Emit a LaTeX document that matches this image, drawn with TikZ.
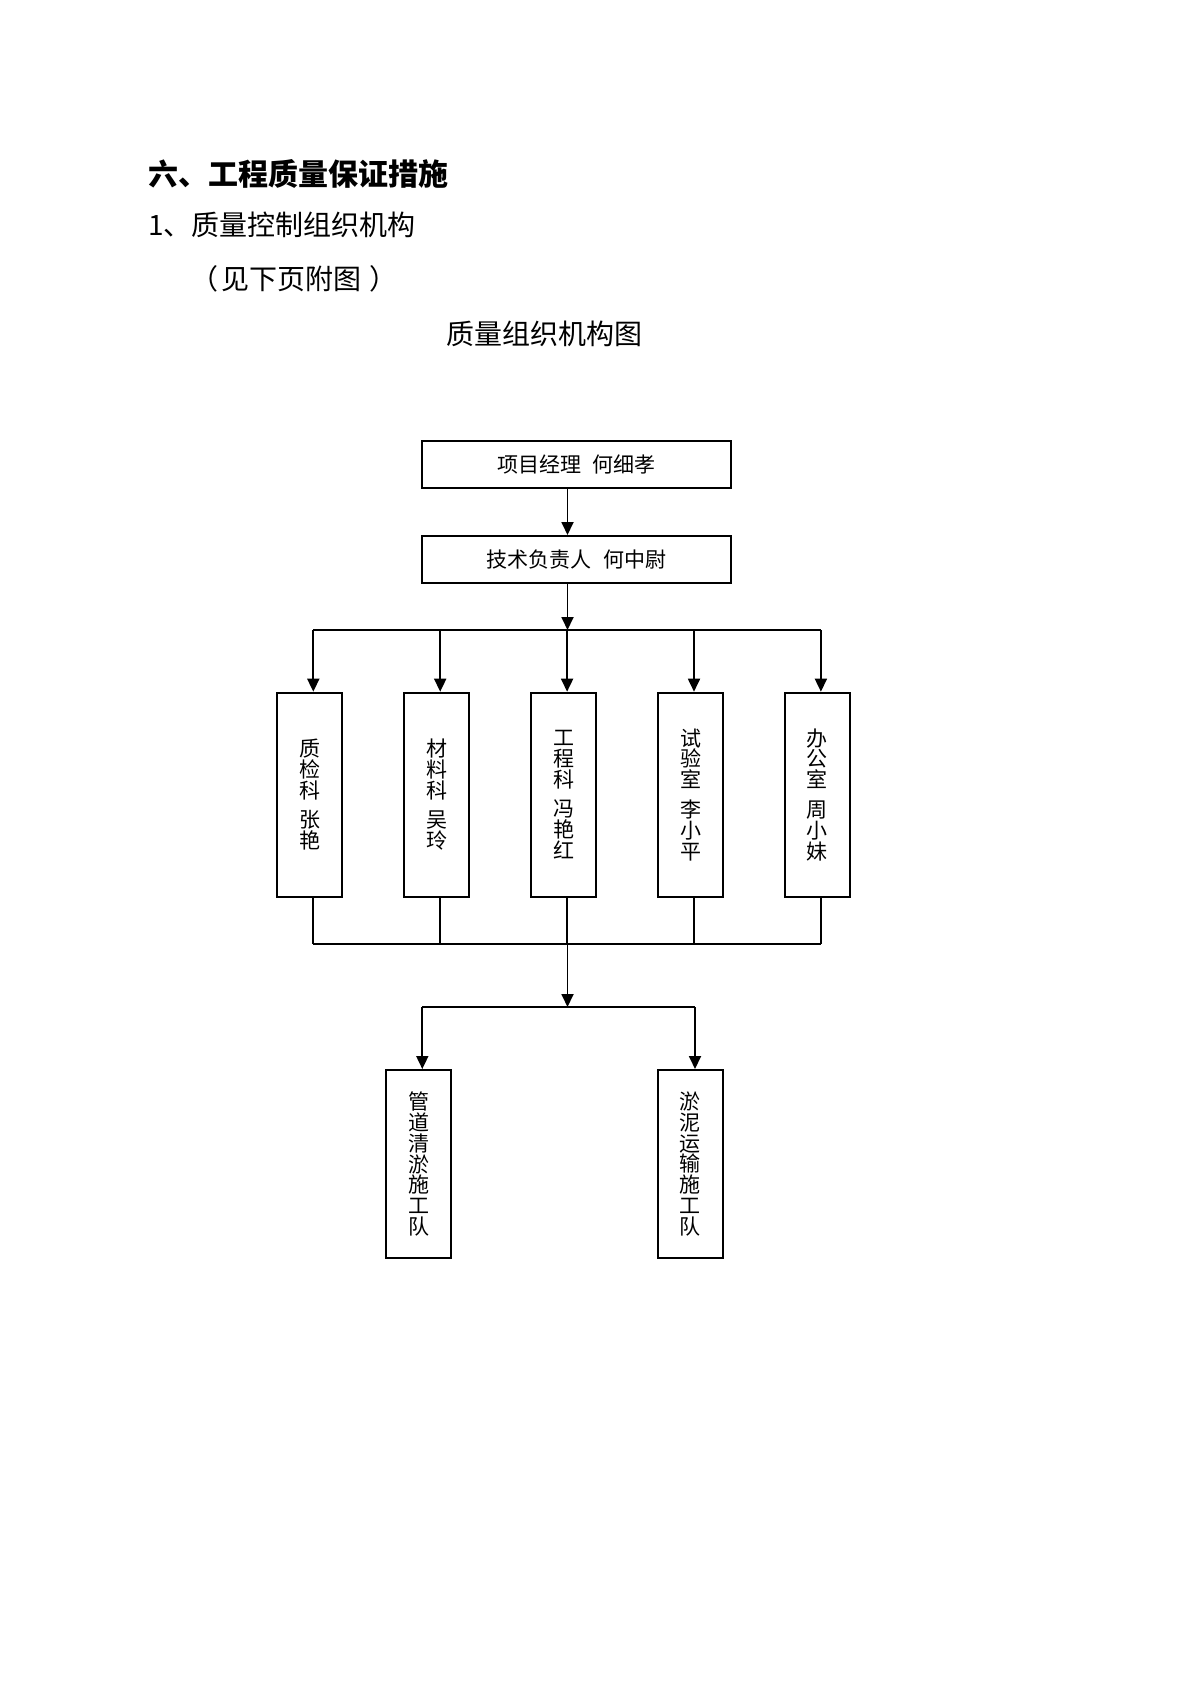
\documentclass[tikz,border=0pt]{standalone}
\usepackage{fontspec}
\setmainfont{Noto Sans CJK SC}
\usetikzlibrary{arrows.meta}

\begin{document}
\begin{tikzpicture}[x=0.5pt, y=-0.5pt,
    box/.style={draw, line width=1pt, inner sep=0pt, align=center, font=\fontsize{10.5}{10.4}\selectfont},
    wide/.style={box, minimum width=154.5pt, minimum height=23.5pt},
    tall/.style={box, minimum width=32.4pt, minimum height=102pt},
    team/.style={box, minimum width=32.5pt, minimum height=94pt},
    line/.style={anchor=west, inner sep=0pt},
    link/.style={line width=0.9pt},
    arr/.style={link, -{Triangle[width=6pt,length=6.5pt]}}]
  \useasboundingbox (0,0) rectangle (1199,1697);

  % headings
  \node[line, font=\fontsize{15}{15}\selectfont\bfseries] (head) at (148,174) {六、工程质量保证措施};
  \node[line, font=\fontsize{14}{14}\selectfont] (sub) at (148,225) {1、质量控制组织机构};
  \node[line, font=\fontsize{14}{14}\selectfont] (note) at (190,279) {（\hspace{1.5pt}见下页附图\hspace{4pt}）};
  \node[line, font=\fontsize{14}{14}\selectfont] (title) at (446,334) {质量组织机构图};

  % top of the chart
  \coordinate (spine) at (567.5,0);
  \node[wide] (pm) at (576.5,464.7) {项目经理\hspace{6pt}何细孝};
  \node[wide] (tech) at (576.5,559.5) {技术负责人\hspace{6pt}何中尉};
  \coordinate (bus) at (567.5,630);
  \coordinate (low) at (567.5,944.3);
  \coordinate (fork) at (567.5,1007);

  \draw[arr] (pm.south -| spine) -- (tech.north -| spine);
  \draw[arr] (tech.south -| spine) -- (bus);

  % departments
  \def \pitch {126.9}
  \foreach[count=\s] \t in {{质\\检\\科\\[4.5pt]张\\艳}, {材\\料\\科\\[4.5pt]吴\\玲},
      {工\\程\\科\\[4.5pt]冯\\艳\\红}, {试\\验\\室\\[4.5pt]李\\小\\平}, {办\\公\\室\\[4.5pt]周\\小\\妹}}
  {
  \coordinate (c\s) at ({186.4+\pitch*\s},0);
  \node[tall] (d\s) at ({182.9+\pitch*\s},794.7) {\t};
  \draw[arr] (bus -| c\s) -- (d\s.north -| c\s);
  \draw[link] (d\s.south -| c\s) -- (low -| c\s);
  }
  \draw[link] (bus -| c1) -- (bus -| c5);
  \draw[link] (low -| c1) -- (low -| c5);

  % teams
  \node[team] (t1) at (418.5,1164) {管\\道\\清\\淤\\施\\工\\队};
  \node[team] (t2) at (690.3,1164) {淤\\泥\\运\\输\\施\\工\\队};
  \coordinate (f1) at (422.3,1007);
  \coordinate (f2) at (695,1007);

  \draw[arr] (low) -- (fork);
  \draw[link] (f1) -- (f2);
  \draw[arr] (f1) -- (t1.north -| f1);
  \draw[arr] (f2) -- (t2.north -| f2);
\end{tikzpicture}
\end{document}
